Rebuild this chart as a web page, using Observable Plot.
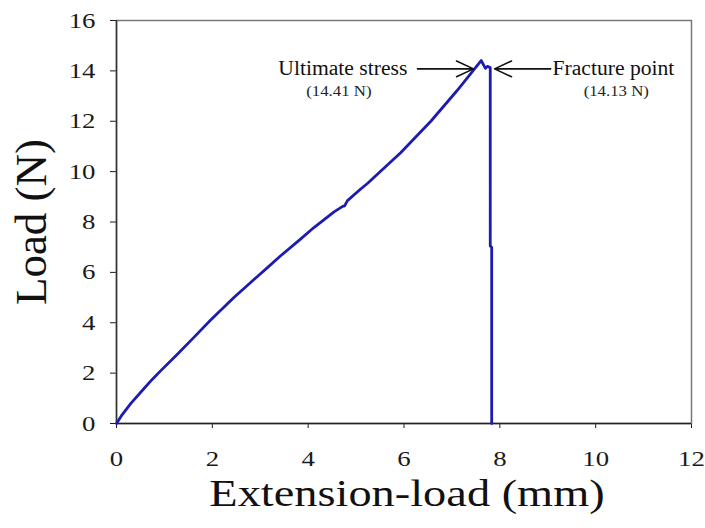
<!DOCTYPE html>
<html>
<head>
<meta charset="utf-8">
<script src="https://cdn.jsdelivr.net/npm/d3@7"></script>
<script src="https://cdn.jsdelivr.net/npm/@observablehq/plot@0.6"></script>
<style>
  html, body { margin: 0; padding: 0; background: #fff; }
</style>
</head>
<body>
<script>
// Tensile test: extension (mm) vs load (N)
const extension = [0, 0.1, 0.3, 0.57, 0.75, 0.92, 1.27, 1.61, 1.96, 2.45, 2.8, 3.15, 3.42, 3.84, 4.12, 4.54, 4.72, 4.76, 4.82, 5.09, 5.23, 5.93, 6.56, 7.1, 7.61, 7.7, 7.74, 7.8, 7.8, 7.83, 7.83];
const load      = [0, 0.3, 0.8, 1.38, 1.76, 2.09, 2.75, 3.41, 4.1, 5.0, 5.6, 6.19, 6.65, 7.32, 7.78, 8.4, 8.62, 8.64, 8.85, 9.3, 9.52, 10.75, 12.0, 13.2, 14.41, 14.1, 14.18, 14.13, 7.05, 7.0, 0];

const xTicks = [0, 2, 4, 6, 8, 10, 12];
const yTicks = [0, 2, 4, 6, 8, 10, 12, 14, 16];

const ultimateLoad = 14.41;
const fractureLoad = 14.13;

const curve = extension.map((x, i) => ({x, y: load[i]}));

// Callout arrows (tail -> head) and their texts, in data units
const arrows = [
  {x1: 6.28, y1: 14.08, x2: 7.45, y2: 14.08},
  {x1: 9.06, y1: 14.08, x2: 7.89, y2: 14.08}
];
const titles = [
  {x: 6.07, y: 14.08, text: "Ultimate stress", anchor: "end"},
  {x: 9.10, y: 14.08, text: "Fracture point", anchor: "start"}
];
const values = [
  {x: 4.64, y: 13.2, text: `(${ultimateLoad.toFixed(2)} N)`},
  {x: 10.43, y: 13.2, text: `(${fractureLoad.toFixed(2)} N)`}
];

const serif = "'Liberation Serif', 'Times New Roman', serif";

const chart = Plot.plot({
  width: 705,
  height: 528,
  marginLeft: 116,
  marginRight: 14,
  marginTop: 20,
  marginBottom: 105,
  style: {fontFamily: serif, fontSize: "22px", color: "#1a1a1a", background: "#fff"},
  x: {domain: [0, 12], ticks: xTicks, tickFormat: d => d, label: null, tickSize: 5, tickPadding: 22},
  y: {domain: [0, 16], ticks: yTicks, tickFormat: d => d, label: null, tickSize: 6, tickPadding: 15},
  marks: [
    Plot.frame({stroke: "#777", strokeWidth: 1.5}),
    Plot.ruleX([0], {stroke: "#333", strokeWidth: 1.5}),
    Plot.ruleY([0], {stroke: "#222", strokeWidth: 1.5}),
    Plot.line(curve, {x: "x", y: "y", stroke: "#1c1cb0", strokeWidth: 2.8, strokeLinejoin: "round"}),
    Plot.arrow(arrows, {x1: "x1", y1: "y1", x2: "x2", y2: "y2", stroke: "#111", strokeWidth: 1.6, headLength: 18, headAngle: 50}),
    Plot.text(titles.filter(d => d.anchor === "end"), {x: "x", y: "y", text: "text", textAnchor: "end", fontSize: 20, fill: "#111", className: "s108"}),
    Plot.text(titles.filter(d => d.anchor === "start"), {x: "x", y: "y", text: "text", textAnchor: "start", fontSize: 20, fill: "#111", className: "s108"}),
    Plot.text(values, {x: "x", y: "y", text: "text", fontSize: 15, fill: "#222", className: "s112"}),
    Plot.text(["Extension-load (mm)"], {frameAnchor: "bottom", text: d => d, textAnchor: "middle", lineAnchor: "middle", dy: 70, dx: 3, fontSize: 38, fill: "#111"}),
    Plot.text(["Load (N)"], {frameAnchor: "left", text: d => d, textAnchor: "middle", lineAnchor: "middle", rotate: -90, dx: -85, fontSize: 45, fill: "#111", className: "ylabel"})
  ]
});

document.body.append(chart);

// Widen horizontal texts slightly (serif set a little wide)
chart.querySelectorAll("text").forEach(t => {
  if (t.closest(".ylabel")) return;
  const k = t.closest(".s108") ? 1.08 : t.closest(".s112") ? 1.12 : 1.22;
  const w = t.getComputedTextLength();
  if (w > 0) {
    t.setAttribute("textLength", (w * k).toFixed(1));
    t.setAttribute("lengthAdjust", "spacingAndGlyphs");
  }
});
</script>
</body>
</html>
